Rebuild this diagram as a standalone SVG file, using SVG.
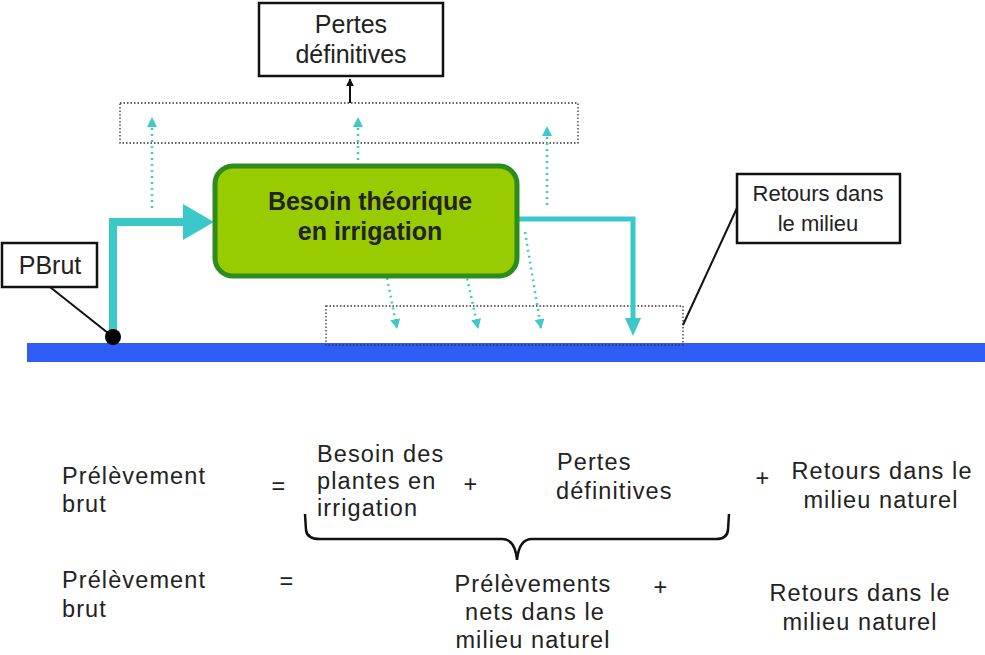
<svg xmlns="http://www.w3.org/2000/svg" width="985" height="655" viewBox="0 0 985 655">
<defs>
<style>
.lbl{font-family:"Liberation Sans",Arial,sans-serif;fill:#222;}
.eq{font-family:"Liberation Sans",Arial,sans-serif;font-size:23.5px;letter-spacing:1.1px;fill:#222;}
.box{fill:#fff;stroke:#111;stroke-width:2.5;}
.dotbox{fill:none;stroke:#333;stroke-width:1.3;stroke-dasharray:1.5 2;}
.dcyan{fill:none;stroke:#40c8c8;stroke-width:2.5;stroke-dasharray:2 4;}
.cyan{fill:none;stroke:#3cc8c8;}
</style>
<marker id="hsmall" viewBox="0 0 10 10" refX="9" refY="5" markerWidth="4" markerHeight="4" orient="auto"><path d="M0,0 L10,5 L0,10 z" fill="#40c8c8"/></marker>
<marker id="hblack" viewBox="0 0 10 10" refX="9" refY="5" markerWidth="4" markerHeight="4" orient="auto"><path d="M0,0 L10,5 L0,10 z" fill="#111"/></marker>
</defs>
<rect x="0" y="0" width="985" height="655" fill="#fff"/>
<rect x="27" y="343" width="958" height="19" fill="#2f5cf5"/>
<g id="connectors">
<rect class="dotbox" x="120" y="103" width="458" height="40"/>
<rect class="dotbox" x="326" y="306" width="357" height="39"/>
<line x1="350" y1="103" x2="350" y2="79" stroke="#111" stroke-width="2" marker-end="url(#hblack)"/>
<line class="dcyan" x1="152" y1="208" x2="152" y2="118" marker-end="url(#hsmall)"/>
<line class="dcyan" x1="358" y1="160" x2="358" y2="118" marker-end="url(#hsmall)"/>
<line class="dcyan" x1="547" y1="205" x2="547" y2="127" marker-end="url(#hsmall)"/>
<line class="dcyan" x1="387" y1="278" x2="397" y2="328" marker-end="url(#hsmall)"/>
<line class="dcyan" x1="462" y1="255" x2="478" y2="328" marker-end="url(#hsmall)"/>
<line class="dcyan" x1="525" y1="232" x2="541" y2="328" marker-end="url(#hsmall)"/>
<path class="cyan" stroke-width="8" d="M113,337 V222 H186"/>
<path d="M183,204 L214,222 L183,240 z" fill="#3cc8c8"/>
<path class="cyan" stroke-width="5" d="M518,219 H633 V320"/>
<path d="M625,318 L633,336 L641,318 z" fill="#3cc8c8"/>
<line x1="50" y1="287" x2="113" y2="337" stroke="#111" stroke-width="2"/>
<circle cx="113" cy="337" r="8" fill="#000"/>
<line x1="737" y1="208" x2="683" y2="325" stroke="#111" stroke-width="2"/>
<path d="M305,514 L306,530 Q307,539 320,539 H502 Q515,539 517,560 Q519,539 532,539 H716 Q727,539 728,530 L729,514" fill="none" stroke="#111" stroke-width="2.5"/>
</g>
<g id="pertes">
<rect class="box" x="259" y="3" width="184" height="73"/>
<text class="lbl" x="351" y="33" font-size="25" text-anchor="middle">Pertes</text>
<text class="lbl" x="351" y="63" font-size="25" text-anchor="middle">définitives</text>
</g>
<g id="besoin">
<rect x="215" y="166" width="302" height="110" rx="18" fill="#99cc00" stroke="#2e8b1e" stroke-width="5"/>
<text class="lbl" x="370" y="210" font-size="25" font-weight="bold" text-anchor="middle" fill="#111">Besoin théorique</text>
<text class="lbl" x="370" y="240" font-size="25" font-weight="bold" text-anchor="middle" fill="#111">en irrigation</text>
</g>
<g id="pbrut">
<rect class="box" x="2" y="243" width="95" height="44"/>
<text class="lbl" x="50" y="274" font-size="25" text-anchor="middle">PBrut</text>
</g>
<g id="retours">
<rect class="box" x="737" y="174" width="163" height="69"/>
<text class="lbl" x="818" y="201" font-size="22" text-anchor="middle">Retours dans</text>
<text class="lbl" x="818" y="231" font-size="22" text-anchor="middle">le milieu</text>
</g>
<g id="equation1">
<text class="eq" x="62" y="484">Prélèvement</text>
<text class="eq" x="62" y="512">brut</text>
<text class="eq" x="279" y="494" text-anchor="middle">=</text>
<text class="eq" x="317" y="462">Besoin des</text>
<text class="eq" x="317" y="489">plantes en</text>
<text class="eq" x="317" y="516">irrigation</text>
<text class="eq" x="471" y="492" text-anchor="middle">+</text>
<text class="eq" x="557" y="470">Pertes</text>
<text class="eq" x="556" y="499">définitives</text>
<text class="eq" x="763" y="486" text-anchor="middle">+</text>
<text class="eq" x="882" y="479" text-anchor="middle">Retours dans le</text>
<text class="eq" x="881" y="508" text-anchor="middle">milieu naturel</text>
</g>
<g id="equation2">
<text class="eq" x="62" y="588">Prélèvement</text>
<text class="eq" x="62" y="617">brut</text>
<text class="eq" x="287" y="589" text-anchor="middle">=</text>
<text class="eq" x="533" y="592" text-anchor="middle">Prélèvements</text>
<text class="eq" x="535" y="620" text-anchor="middle">nets dans le</text>
<text class="eq" x="533" y="648" text-anchor="middle">milieu naturel</text>
<text class="eq" x="661" y="595" text-anchor="middle">+</text>
<text class="eq" x="860" y="601" text-anchor="middle">Retours dans le</text>
<text class="eq" x="860" y="630" text-anchor="middle">milieu naturel</text>
</g>
</svg>
